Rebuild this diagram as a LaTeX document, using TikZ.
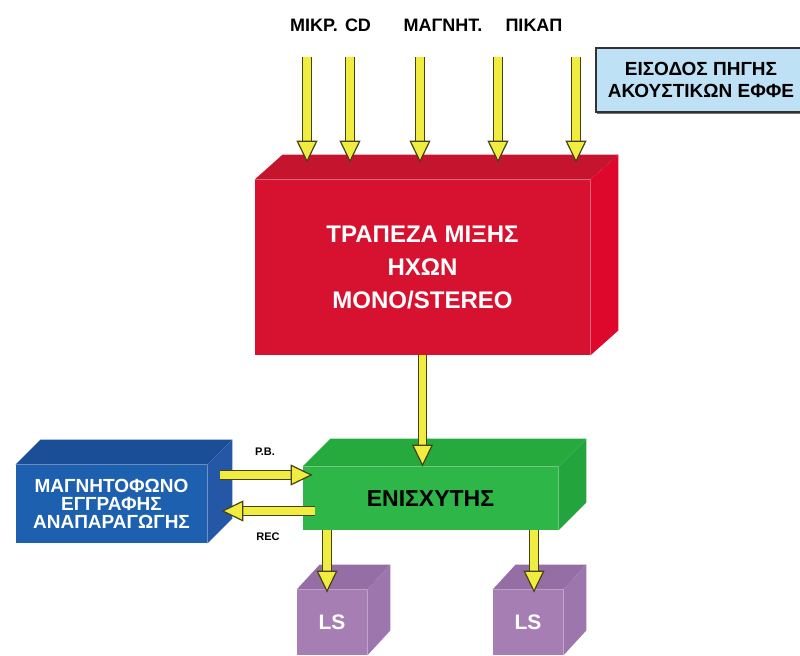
\documentclass[tikz,border=0pt]{standalone}
\usepackage{fontspec}
\setmainfont{Liberation Sans}
\usetikzlibrary{arrows.meta,positioning,shadows}

\definecolor{mixred}{RGB}{214,18,48}
\definecolor{mixtop}{RGB}{196,20,46}
\definecolor{mixside}{RGB}{222,8,44}
\definecolor{ampgreen}{RGB}{46,182,72}
\definecolor{amptop}{RGB}{38,170,62}
\definecolor{ampside}{RGB}{36,164,60}
\definecolor{tapeblue}{RGB}{30,96,176}
\definecolor{tapetop}{RGB}{26,78,150}
\definecolor{tapeside}{RGB}{36,88,166}
\definecolor{lsviolet}{RGB}{166,126,180}
\definecolor{lstop}{RGB}{150,110,166}
\definecolor{lsside}{RGB}{158,118,174}
\definecolor{fxblue}{RGB}{190,225,245}
\definecolor{arrowyellow}{RGB}{240,236,64}
\definecolor{arrowedge}{RGB}{70,66,20}

% top and right faces of a block: node, dx, dy, top colour, side colour
\newcommand{\boxfaces}[5]{%
  \fill[#4] (#1.north west) -- ++(#2,-#3) -- ([shift={(#2,-#3)}]#1.north east) -- (#1.north east) -- cycle;
  \fill[#5] (#1.north east) -- ++(#2,-#3) -- ([shift={(#2,-#3)}]#1.south east) -- (#1.south east) -- cycle;}

\begin{document}
\begin{tikzpicture}[x=0.5pt,y=-0.5pt,
		block/.style={rectangle,inner sep=0pt,align=center},
		feed/.style={draw=arrowedge,line width=0.6pt,double=arrowyellow,double distance=3.6pt,
			-{Triangle[width=10.5pt,length=11pt,fill=arrowyellow,line width=0.6pt]}}]
		\tikzstyle{source}=[font=\fontsize{9}{10}\selectfont\bfseries]
		\tikzstyle{tag}=[font=\fontsize{5.5}{6}\selectfont\bfseries]
		\tikzstyle{speaker}=[block,fill=lsviolet,text=white,minimum width=35pt,minimum height=32.5pt,
			font=\fontsize{10.5}{12}\selectfont\bfseries]

		\clip (0,0) rectangle (800,656);

		\node[source] (mikr) at (314,25) {ΜΙΚΡ.};
		\node[source] (cd) at (358,25) {CD};
		\node[source] (magn) at (443,25) {ΜΑΓΝΗΤ.};
		\node[source] (pikap) at (534,25) {ΠΙΚΑΠ};

		\node[block,draw=black!80,line width=0.8pt,fill=fxblue,minimum width=105pt,minimum height=32pt,
			font=\fontsize{9.5}{11}\selectfont\bfseries,
			drop shadow={opacity=1,shadow xshift=0.4pt,shadow yshift=-1.2pt,fill=black!55}]
			(fx) at (701,80) {ΕΙΣΟΔΟΣ ΠΗΓΗΣ\\ΑΚΟΥΣΤΙΚΩΝ ΕΦΦΕ};

		\node[block,fill=mixred,text=white,minimum width=167.5pt,minimum height=87.5pt,
			font=\fontsize{12}{16.5}\selectfont\bfseries]
			(mix) at (422.5,267.5) {ΤΡΑΠΕΖΑ ΜΙΞΗΣ\\ΗΧΩΝ\\MONO/STEREO};
		\boxfaces{mix}{28}{25}{mixtop}{mixside}

		\node[block,fill=ampgreen,minimum width=127.5pt,minimum height=31.5pt,
			font=\fontsize{11.5}{13}\selectfont\bfseries]
			(amp) at (430.5,498.5) {ΕΝΙΣΧΥΤΗΣ};
		\boxfaces{amp}{28}{28}{amptop}{ampside}

		\node[block,fill=tapeblue,text=white,minimum width=95.5pt,minimum height=39pt,
			font=\fontsize{9.5}{9}\selectfont\bfseries]
			(tape) at (111.5,504) {ΜΑΓΝΗΤΟΦΩΝΟ\\ΕΓΓΡΑΦΗΣ\\ΑΝΑΠΑΡΑΓΩΓΗΣ};
		\boxfaces{tape}{25}{25}{tapetop}{tapeside}

		\node[speaker] (ls1) at (332,622.5) {LS};
		\boxfaces{ls1}{23}{25}{lstop}{lsside}
		\node[speaker] (ls2) at (528,622.5) {LS};
		\boxfaces{ls2}{23}{25}{lstop}{lsside}

		\coordinate (in1) at (307,57);
		\coordinate (in2) at (350,57);
		\coordinate (in3) at (420,57);
		\coordinate (in4) at (498,57);
		\coordinate (in5) at (576,57);
		\foreach \i in {1,...,5}
			\draw[feed] (in\i) -- ([yshift=8.5pt]mix.north -| in\i);

		\draw[feed] (mix.south) -- (mix.south |- amp.north);
		\draw[feed] ([xshift=6.5pt,yshift=14.5pt]tape.east) -- ([xshift=5pt,yshift=11.75pt]amp.west);
		\draw[feed] ([xshift=6pt,yshift=-6.25pt]amp.west) -- ([xshift=7pt,yshift=-3.5pt]tape.east);
		\draw[feed] ([xshift=-2.5pt]ls1.north |- amp.south) -- ([xshift=-2.5pt,yshift=-1.5pt]ls1.north);
		\draw[feed] ([xshift=3pt]ls2.north |- amp.south) -- ([xshift=3pt,yshift=-1.5pt]ls2.north);

		\node[tag] (pb) at (265,452) {P.B.};
		\node[tag] (rec) at (268,537) {REC};
	\end{tikzpicture}
\end{document}
